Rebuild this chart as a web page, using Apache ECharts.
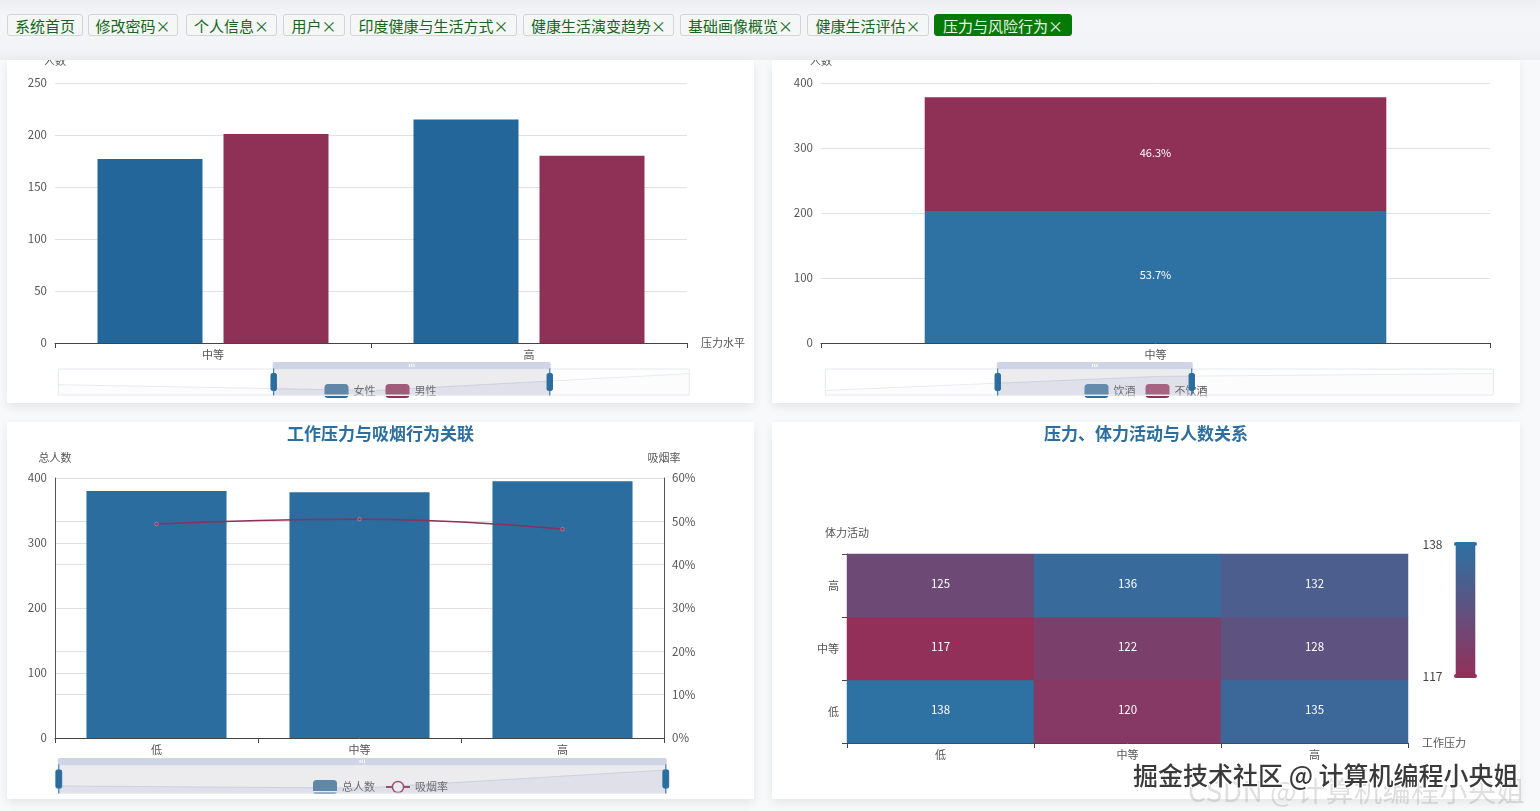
<!DOCTYPE html>
<html><head><meta charset="utf-8">
<script src="https://cdn.jsdelivr.net/npm/echarts@6/dist/echarts.min.js"></script>
<style>
html,body{margin:0;padding:0;width:1540px;height:811px;overflow:hidden;background:#f8f9fb;font-family:"Noto Sans CJK SC",sans-serif}
#head{position:absolute;left:0;top:0;width:1540px;height:60px;background:linear-gradient(#eceef1,#f3f5f8 25%,#f2f4f7 80%,#eceef1)}
.tab{position:absolute;top:14px;height:20px;line-height:22px;border:1px solid #cfd6d4;border-radius:3px;background:#f4f7f6;color:#13661a;font-size:15px;text-align:center;white-space:nowrap}
.tab.on{background:#067a06;border-color:#067a06;color:#eaf6ea}
.card{position:absolute;background:#fff;overflow:hidden;box-shadow:0 4px 9px rgba(0,0,0,.08)}
.chart{position:absolute}
.wm{position:absolute;white-space:nowrap}
</style></head><body>
<div id="head"></div>
<div id="tabs"></div>
<div class="card" style="left:7px;top:60px;width:747px;height:343px"><div class="chart" id="c1" style="left:0;top:-40px;width:747px;height:383px"></div></div>
<div class="card" style="left:772px;top:60px;width:748px;height:343px"><div class="chart" id="c2" style="left:0;top:-40px;width:748px;height:383px"></div></div>
<div class="card" style="left:7px;top:422px;width:747px;height:377px"><div class="chart" id="c3" style="left:0;top:0;width:747px;height:377px"></div></div>
<div class="card" style="left:772px;top:422px;width:748px;height:377px"><div class="chart" id="c4" style="left:0;top:0;width:748px;height:377px"></div></div>
<div class="wm" style="left:1188px;top:770px;font-size:28px;color:rgba(150,150,150,.3);letter-spacing:.5px">CSDN @计算机编程小央姐</div>
<div class="wm" style="left:1133px;top:756px;font-size:25px;font-weight:500;color:#3a3a3a;text-shadow:1px 1px 0 #fff,-1px -1px 0 #fff,1px -1px 0 #fff,-1px 1px 0 #fff">掘金技术社区 @ 计算机编程小央姐</div>
<script>
const tabNames = ['系统首页','修改密码×','个人信息×','用户×','印度健康与生活方式×','健康生活演变趋势×','基础画像概览×','健康生活评估×','压力与风险行为×'];
const tabLeft = [7,88,186,283,350,523,680,807,934];
const tabRight = [83,178,277,345,517,674,801,929,1072];

const stressLevels = ['低','中等','高'];
const femaleCounts = [190,177,215];
const maleCounts = [190,201,180];
const drinkCounts = [188,203,206];
const noDrinkCounts = [192,175,189];
const totalCounts = [380,378,395];
const smokeRates = [49.4,50.5,48.2];
const activityLevels = ['低','中等','高'];
const heatLow = [138,120,135];
const heatMid = [117,122,128];
const heatHigh = [125,136,132];

const BLUE='#2a6d9e', RED='#8f3056', TXT='#555';
const FONT='"Noto Sans CJK SC","Noto Sans",sans-serif';

tabNames.forEach((n,i)=>{
  const d=document.createElement('div');
  d.className='tab'+(i===tabNames.length-1?' on':'');
  d.style.left=tabLeft[i]+'px';
  d.style.width=(tabRight[i]-tabLeft[i]-2)+'px';
  d.textContent=n;
  document.getElementById('tabs').appendChild(d);
});

function swatch(c,l){return {color:{type:'linear',x:0,y:0,x2:0,y2:1,colorStops:[
  {offset:0,color:l},{offset:.8,color:l},{offset:.8,color:'#fff'},{offset:.87,color:'#fff'},{offset:.87,color:c},{offset:1,color:c}]},borderWidth:0};}
const catAxis=(names,extra)=>Object.assign({type:'category',data:names,axisLine:{lineStyle:{color:'#444'}},axisTick:{show:true,alignWithLabel:false,lineStyle:{color:'#444'}},axisLabel:{color:TXT,fontSize:11,margin:6},nameTextStyle:{color:TXT,fontSize:11}},extra||{});
const valAxis=(name,max,interval,extra)=>Object.assign({type:'value',name:name,min:0,max:max,interval:interval,nameGap:17,nameTextStyle:{color:TXT,fontSize:11},axisLabel:{color:TXT,fontSize:11.5,margin:8,padding:[0,0,4,0]},splitLine:{lineStyle:{color:'#dfe1e6'}}},extra||{});
const slider=(l,r,t,h,s,e)=>({type:'slider',xAxisIndex:0,left:l,right:r,top:t,height:h,start:s,end:e,showDetail:false,brushSelect:true,moveHandleSize:7,
  borderColor:'#e6e8ee',backgroundColor:'rgba(255,255,255,0)',fillerColor:'rgba(180,180,190,.25)',
  handleStyle:{color:BLUE,borderColor:BLUE},moveHandleStyle:{color:'#cfd4e6',opacity:1},
  dataBackground:{lineStyle:{color:'#d2d6e2'},areaStyle:{color:'#eef0f6'}},
  selectedDataBackground:{lineStyle:{color:'#b4bcd8'},areaStyle:{color:'#c3cbe2'}}});
const legendCfg=(b,items)=>({bottom:b,itemWidth:24,itemHeight:14,itemGap:10,textStyle:{color:TXT,fontSize:11},data:items});
const opts=(o)=>Object.assign({textStyle:{fontFamily:FONT},animation:false},o);

echarts.init(document.getElementById('c1')).setOption(opts({
  grid:{left:48,right:67,top:63,bottom:60},
  legend:legendCfg(0,[{name:'女性',itemStyle:swatch('#2a6d9e','#44789f')},{name:'男性',itemStyle:swatch('#8f3056','#9a3f63')}]),
  xAxis:catAxis(stressLevels,{name:'压力水平',nameGap:14,nameLocation:'end'}),
  yAxis:valAxis('人数',250,50),
  dataZoom:[slider(48,67,342,27,34,78)],
  series:[
    {name:'女性',type:'bar',barWidth:105,barGap:'20%',data:femaleCounts,itemStyle:{color:'#23669a'}},
    {name:'男性',type:'bar',barWidth:105,data:maleCounts,itemStyle:{color:RED}}
  ]}));

const pct=(i,v)=>(v/(drinkCounts[i]+noDrinkCounts[i])*100).toFixed(1)+'%';
echarts.init(document.getElementById('c2')).setOption(opts({
  grid:{left:49,right:30,top:63,bottom:60},
  legend:legendCfg(0,[{name:'饮酒',itemStyle:swatch('#2a6d9e','#4a7ea6')},{name:'不饮酒',itemStyle:swatch('#8f3056','#a34a6e')}]),
  xAxis:catAxis(stressLevels),
  yAxis:valAxis('人数',400,100),
  dataZoom:[slider(50,29,342,27,25.7,55)],
  series:[
    {name:'饮酒',type:'bar',stack:'a',barWidth:'69%',data:drinkCounts,itemStyle:{color:'#2e71a3'},label:{show:true,position:'inside',offset:[0,-2],color:'#fff',fontSize:11,formatter:p=>pct(p.dataIndex,p.value)}},
    {name:'不饮酒',type:'bar',stack:'a',barWidth:'69%',data:noDrinkCounts,itemStyle:{color:RED},label:{show:true,position:'inside',offset:[0,-1],color:'#fff',fontSize:11,formatter:p=>pct(p.dataIndex,p.value)}}
  ]}));

echarts.init(document.getElementById('c3')).setOption(opts({
  title:{text:'工作压力与吸烟行为关联',left:'center',top:-2,textStyle:{color:'#2c6f9f',fontSize:17,fontWeight:'bold'}},
  grid:{left:48,right:90,top:56,bottom:61},
  legend:legendCfg(0,[{name:'总人数',itemStyle:swatch('#2a6d9e','#44789f')},{name:'吸烟率',itemStyle:{color:'#fff',borderColor:RED,borderWidth:1.5}}]),
  xAxis:catAxis(stressLevels),
  yAxis:[
    valAxis('总人数',400,100,{axisLine:{show:true,lineStyle:{color:'#555'}},nameGap:15}),
    valAxis('吸烟率',60,10,{position:'right',axisLine:{show:true,lineStyle:{color:'#555'}},nameGap:15,axisLabel:{color:TXT,fontSize:11.5,margin:8,padding:[0,0,4,0],formatter:'{value}%'}})
  ],
  dataZoom:[slider(48,90,336,29,0,100)],
  series:[
    {name:'总人数',type:'bar',barWidth:'69%',data:totalCounts,itemStyle:{color:'#2a6d9e'}},
    {name:'吸烟率',type:'line',yAxisIndex:1,smooth:true,symbol:'circle',symbolSize:3.5,data:smokeRates,lineStyle:{color:RED,width:1.5},itemStyle:{color:RED,borderColor:'#e8a9c0',borderWidth:.5}}
  ]}));

const heatData=[];
[heatLow,heatMid,heatHigh].forEach((row,y)=>row.forEach((v,x)=>heatData.push([x,y,v])));
echarts.init(document.getElementById('c4')).setOption(opts({
  title:{text:'压力、体力活动与人数关系',left:'center',top:-2,textStyle:{color:'#2c6f9f',fontSize:17,fontWeight:'bold'}},
  grid:{left:75,right:112,top:132,bottom:56},
  xAxis:catAxis(stressLevels,{name:'工作压力',nameGap:14,nameLocation:'end',nameTextStyle:{color:TXT,fontSize:11,padding:[0,0,4,0]}}),
  yAxis:catAxis(activityLevels,{name:'体力活动',nameGap:16,nameLocation:'end',axisLabel:{color:TXT,fontSize:11,margin:8,padding:[0,0,4,0]}}),
  visualMap:{type:'continuous',min:117,max:138,calculable:true,orient:'vertical',align:'right',right:28,top:101,itemWidth:20,itemHeight:132,
    hoverLink:false,handleIcon:'path://M3,0H57A3,3,0,0,1,57,12H3A3,3,0,0,1,3,0Z',handleSize:'115%',handleStyle:{borderColor:'#fff',borderWidth:0},indicatorSize:0,
    inRange:{color:['#93305a','#2e71a3']},textStyle:{color:'#444',fontSize:12}},
  series:[{type:'heatmap',data:heatData,label:{show:true,color:'#fff',fontSize:11.5,offset:[0,-2]},itemStyle:{borderWidth:0}}]
}));
</script></body></html>
